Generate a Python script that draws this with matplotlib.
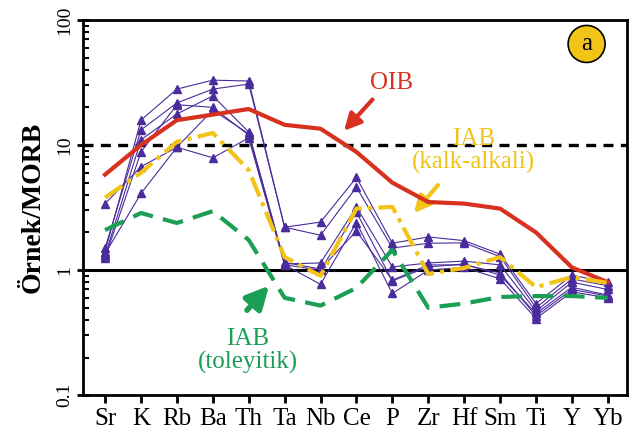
import numpy as np
import matplotlib.pyplot as plt
from matplotlib.ticker import LogLocator, NullFormatter, FixedLocator, FixedFormatter

elements = ['Sr', 'K', 'Rb', 'Ba', 'Th', 'Ta', 'Nb', 'Ce', 'P', 'Zr', 'Hf', 'Sm', 'Ti', 'Y', 'Yb']

# samples (normalised to MORB)
s1 = [1.40, 15.8, 28.0, 33.0, 32.5, 2.20, 2.42, 5.50, 1.64, 1.84, 1.72, 1.34, 0.54, 0.91, 0.80]
s2 = [1.50, 13.2, 21.7, 28.0, 30.7, 2.20, 1.90, 4.60, 1.50, 1.64, 1.65, 1.28, 0.50, 0.85, 0.75]
s3 = [1.30, 11.0, 17.7, 24.7, 12.7, 1.12, 1.14, 3.20, 1.06, 1.14, 1.18, 1.10, 0.47, 0.80, 0.70]
s4 = [1.25, 8.8, 21.0, 20.0, 12.0, 1.10, 1.00, 2.90, 0.82, 1.06, 1.12, 0.91, 0.45, 0.73, 0.63]
s5 = [3.40, 6.7, 9.6, 7.9, 11.4, 1.10, 0.77, 2.40, 0.65, 1.00, 1.05, 0.85, 0.41, 0.67, 0.60]
s6 = [1.35, 4.1, 9.6, 19.0, 12.3, 1.15, 1.02, 2.05, 0.83, 1.10, 1.10, 0.95, 0.43, 0.70, 0.62]
samples = [s1, s2, s3, s4, s5, s6]

oib = [5.8, 10.0, 15.8, 17.5, 19.4, 14.5, 13.5, 8.8, 5.0, 3.5, 3.4, 3.1, 2.0, 1.05, 0.80]
iab_ca = [3.8, 6.0, 10.6, 12.5, 6.3, 1.27, 0.90, 3.1, 3.2, 0.93, 1.04, 1.27, 0.73, 0.88, 0.79]
iab_th = [2.09, 2.86, 2.38, 2.96, 1.74, 0.60, 0.52, 0.72, 1.45, 0.50, 0.54, 0.61, 0.62, 0.62, 0.60]

plt.rcParams['font.family'] = ['Liberation Serif', 'DejaVu Serif']

x = np.arange(len(elements))

fig = plt.figure(figsize=(6.3, 4.43), dpi=100)
ax = fig.add_axes([0.132, 0.108, 0.863, 0.847])

purple = '#4a2c9c'
red = '#d9311f'
yellow = '#f2c418'
green = '#1a9f55'

ax.axhline(10, color='black', lw=2.4, ls=(0, (3, 2.2)), zorder=1)
ax.axhline(1, color='black', lw=2.2, zorder=1)

for s in samples:
    ax.plot(x, s, color=purple, lw=0.8, marker='^', ms=6, zorder=3)

ax.plot(x, oib, color=red, lw=3, solid_joinstyle='round', zorder=4)
ax.plot(x, iab_ca, color=yellow, lw=3, ls=(0, (5, 1.5, 1, 1.5)), zorder=4)
ax.plot(x, iab_th, color=green, lw=3, ls=(0, (5, 2.5)), zorder=4)

ax.set_yscale('log')
ax.set_ylim(0.1, 100)
ax.set_xlim(-0.61, 14.53)

ax.set_xticks(x)
ax.set_xticklabels(elements, fontsize=18)
ax.tick_params(axis='x', direction='out', length=6, width=2, pad=3)

ax.yaxis.set_major_locator(FixedLocator([0.1, 1, 10, 100]))
ax.yaxis.set_major_formatter(FixedFormatter(['0.1', '1', '10', '100']))
ax.yaxis.set_minor_locator(LogLocator(base=10, subs=np.arange(2, 10)))
ax.yaxis.set_minor_formatter(NullFormatter())
ax.tick_params(axis='y', which='major', direction='inout', length=8, width=2, labelsize=14, pad=3)
ax.tick_params(axis='y', which='minor', direction='in', length=4, width=1.5)
for lab in ax.get_yticklabels():
    lab.set_rotation(90)
    lab.set_va('center')

for sp in ax.spines.values():
    sp.set_linewidth(2)

ax.set_ylabel('Örnek/MORB', fontsize=20, fontweight='bold', labelpad=8)

# annotations
ax.text(7.99, 31.3, 'OIB', color=red, fontsize=18, ha='center', va='center')
ax.annotate('', xy=(6.6, 12.5), xytext=(7.5, 24.0),
            arrowprops=dict(arrowstyle='-|>', color=red, lw=3, mutation_scale=25))

ax.text(10.27, 8.96, 'IAB\n(kalk-alkali)', color=yellow, fontsize=18, ha='center', va='center',
        linespacing=1.05)
ax.annotate('', xy=(8.55, 2.75), xytext=(9.32, 4.97),
            arrowprops=dict(arrowstyle='-|>', color=yellow, lw=3, mutation_scale=25))

ax.text(3.98, 0.225, 'IAB\n(toleyitik)', color=green, fontsize=18, ha='center', va='center',
        linespacing=1.05)
ax.annotate('', xy=(4.62, 0.78), xytext=(3.9, 0.46),
            arrowprops=dict(arrowstyle='-|>', color=green, lw=4, mutation_scale=34))

ax.text(0.926, 0.936, 'a', transform=ax.transAxes, fontsize=18, ha='center', va='center',
        bbox=dict(boxstyle='circle,pad=0.3', fc=yellow, ec='black', lw=1.2))

fig.savefig('out.png', dpi=100)
